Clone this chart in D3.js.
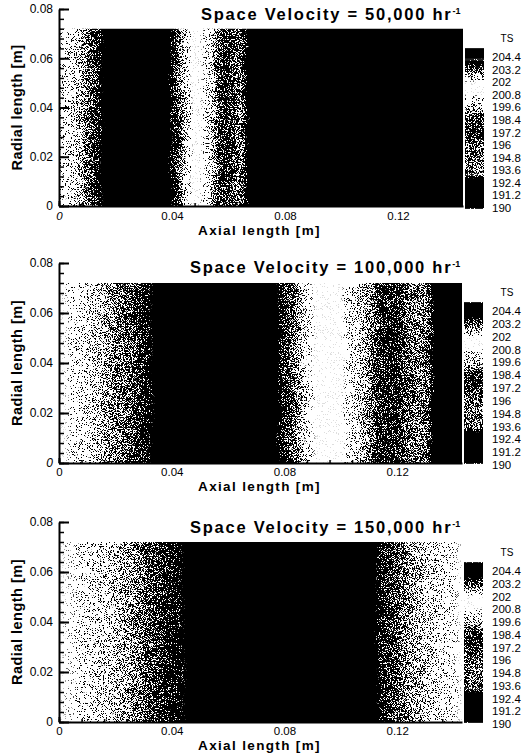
<!DOCTYPE html>
<html>
<head>
<meta charset="utf-8">
<script src="https://cdn.jsdelivr.net/npm/d3@7"></script>
<style>
  html, body { margin: 0; padding: 0; background: #fff; }
  svg { display: block; }
  text { font-family: "Liberation Sans", Arial, sans-serif; fill: #000; }
</style>
</head>
<body>
<script>
// Values
const titles = ['Space Velocity = 50,000 hr', 'Space Velocity = 100,000 hr', 'Space Velocity = 150,000 hr'];
const legendLabels = ['204.4', '203.2', '202', '200.8', '199.6', '198.4', '197.2', '196', '194.8', '193.6', '192.4', '191.2', '190'];
const xTicks = [0, 0.04, 0.08, 0.12];
const yTicks = [0, 0.02, 0.04, 0.06, 0.08];

// axial positions of the temperature readings, one every 0.002 m
const axialStations = [
  0, 0.002, 0.004, 0.006, 0.008, 0.01, 0.012, 0.014, 0.016, 0.018, 0.02, 0.022,
  0.024, 0.026, 0.028, 0.03, 0.032, 0.034, 0.036, 0.038, 0.04, 0.042, 0.044, 0.046,
  0.048, 0.05, 0.052, 0.054, 0.056, 0.058, 0.06, 0.062, 0.064, 0.066, 0.068, 0.07, 0.072, 0.074,
  0.076, 0.078, 0.08, 0.082, 0.084, 0.086, 0.088, 0.09, 0.092, 0.094, 0.096, 0.098,
  0.1, 0.102, 0.104, 0.106, 0.108, 0.11, 0.112, 0.114, 0.116, 0.118, 0.12, 0.122,
  0.124, 0.126, 0.128, 0.13, 0.132, 0.134, 0.136, 0.138, 0.14, 0.142
];

const temps50k = [
  202.1, 202.2, 202.3, 202.5, 202.8, 203.1, 203.4, 203.8, 204.2, 204.5, 204.6, 204.6,
  204.6, 204.6, 204.6, 204.6, 204.6, 204.5, 204.4, 204.0, 203.5, 203.0, 202.4, 201.8,
  201.3, 200.7, 200.0, 199.3, 198.5, 197.8, 196.8, 195.5, 194.0, 192.6, 191.5, 191.0, 190.6, 190.5,
  190.4, 190.3, 190.3, 190.2, 190.2, 190.2, 190.2, 190.2, 190.2, 190.2, 190.2, 190.2,
  190.2, 190.2, 190.2, 190.2, 190.2, 190.2, 190.2, 190.2, 190.2, 190.2, 190.2, 190.2,
  190.2, 190.2, 190.2, 190.2, 190.2, 190.2, 190.2, 190.2, 190.2, 190.2
];
const temps100k = [
  202.0, 202.05, 202.1, 202.15, 202.2, 202.3, 202.4, 202.5, 202.7, 202.8, 202.9, 203.0,
  203.1, 203.3, 203.5, 203.65, 203.8, 203.95, 204.4, 204.5, 204.6, 204.6, 204.6, 204.6,
  204.6, 204.6, 204.6, 204.6, 204.6, 204.6, 204.6, 204.6, 204.6, 204.6, 204.5, 204.5, 204.4, 204.2,
  203.9, 203.6, 203.4, 203.1, 202.8, 202.4, 202.1, 201.8, 201.5, 201.4, 201.3, 201.2,
  200.8, 200.3, 200.0, 199.7, 199.3, 198.9, 198.4, 197.9, 197.5, 197.2, 196.8, 196.2,
  195.6, 195.0, 194.4, 193.6, 192.4, 191.6, 191.0, 190.6, 190.4, 190.3
];
const temps150k = [
  202.0, 202.05, 202.05, 202.1, 202.15, 202.2, 202.25, 202.3, 202.35, 202.4, 202.5, 202.6,
  202.7, 202.8, 202.9, 203.1, 203.3, 203.4, 203.5, 203.6, 203.7, 203.75, 203.85, 203.95,
  204.2, 204.4, 204.5, 204.6, 204.6, 204.6, 204.6, 204.6, 204.6, 204.6, 204.6, 204.6, 204.6, 204.6,
  204.6, 204.6, 204.6, 204.6, 204.6, 204.6, 204.6, 204.6, 204.6, 204.6, 204.6, 204.6,
  204.6, 204.6, 204.6, 204.6, 204.2, 203.95, 203.8, 203.6, 203.4, 203.3, 203.1, 202.9,
  202.7, 202.6, 202.5, 202.4, 202.3, 202.2, 202.15, 202.1, 202.05, 202.0
];
const fieldTemps = [temps50k, temps100k, temps150k];

// legend reading: temperature stops and how light the print is at each
const tempStops =  [189, 192.8, 193.2, 195, 196, 197.2, 198.4, 199, 199.6, 200.4, 200.8, 202, 202.3, 203, 203.4, 203.9, 206];
const lightStops = [0, 0, 0.45, 0.5, 0.42, 0.22, 0.25, 0.5, 0.7, 0.9, 1, 1, 0.8, 0.45, 0.3, 0, 0];

const width = 527, height = 756;

// where each panel sits on the page
const panels = [
  { left: 59, right: 463, top: 9, bottom: 206, barLeft: 465, barTop: 48, barBottom: 209, labelTop: 57, labelBottom: 208, titleX: 201, titleY: 20, tsY: 38, xLabelY: 216, xNameY: 235, yZeroItalic: false, xZeroItalic: true },
  { left: 59, right: 462, top: 263, bottom: 463, barLeft: 464, barTop: 302, barBottom: 464, labelTop: 311, labelBottom: 465, titleX: 190, titleY: 273, tsY: 292, xLabelY: 472, xNameY: 491, yZeroItalic: true, xZeroItalic: false },
  { left: 59, right: 462, top: 522, bottom: 722, barLeft: 464, barTop: 562, barBottom: 723, labelTop: 571, labelBottom: 724, titleX: 190, titleY: 533, tsY: 552, xLabelY: 731, xNameY: 750, yZeroItalic: false, xZeroItalic: false }
];

const svg = d3.select('body').append('svg')
  .attr('width', width)
  .attr('height', height);

const defs = svg.append('defs');

// print-like halftone: soften the strips, then threshold them against fine grain
function addStipple(id, box, blur, warp, seed) {
  const f = defs.append('filter')
    .attr('id', id)
    .attr('filterUnits', 'userSpaceOnUse')
    .attr('x', box[0]).attr('y', box[1]).attr('width', box[2]).attr('height', box[3])
    .attr('color-interpolation-filters', 'sRGB');
  f.append('feTurbulence')
    .attr('type', 'fractalNoise').attr('baseFrequency', '0.025 0.04').attr('numOctaves', 2)
    .attr('seed', seed).attr('result', 'warp');
  f.append('feDisplacementMap')
    .attr('in', 'SourceGraphic').attr('in2', 'warp').attr('scale', warp)
    .attr('xChannelSelector', 'R').attr('yChannelSelector', 'G').attr('result', 'bent');
  f.append('feGaussianBlur')
    .attr('in', 'bent').attr('stdDeviation', blur).attr('result', 'soft');
  f.append('feTurbulence')
    .attr('type', 'fractalNoise').attr('baseFrequency', 1.37).attr('numOctaves', 1)
    .attr('seed', seed + 1).attr('result', 'noise');
  f.append('feColorMatrix')
    .attr('in', 'noise').attr('type', 'matrix')
    .attr('values', '3.2 0 0 0 -1.1  3.2 0 0 0 -1.1  3.2 0 0 0 -1.1  0 0 0 0 1')
    .attr('result', 'grain');
  f.append('feComposite')
    .attr('in', 'soft').attr('in2', 'grain').attr('operator', 'arithmetic')
    .attr('k1', 0).attr('k2', 0.55).attr('k3', 0.5).attr('k4', 0).attr('result', 'sum');
  const t = f.append('feComponentTransfer').attr('in', 'sum');
  ['feFuncR', 'feFuncG', 'feFuncB'].forEach(c => {
    t.append(c).attr('type', 'linear').attr('slope', 30).attr('intercept', -15.6);
  });
}

const lightness = d3.scaleLinear().domain(tempStops).range(lightStops);
const grey = t => d3.rgb(lightness(t) * 255, lightness(t) * 255, lightness(t) * 255).formatHex();

panels.forEach((p, k) => {
  const x = d3.scaleLinear().domain([0, 0.143]).range([p.left, p.right]);
  const y = d3.scaleLinear().domain([0, 0.08]).range([p.bottom, p.top]);
  const g = svg.append('g');

  addStipple('field' + k, [p.left - 20, y(0.072) - 10, p.right - p.left + 40, y(0) - y(0.072) + 20], '2 0', 9, 3 + k * 5);
  addStipple('bar' + k, [p.barLeft, p.barTop, 19, p.barBottom - p.barTop], '0 0.8', 0, 40 + k * 5);

  defs.append('clipPath').attr('id', 'clip' + k)
    .append('rect')
    .attr('x', p.left).attr('y', y(0.072))
    .attr('width', p.right - p.left).attr('height', y(0) - y(0.072));

  // temperature field, one strip per reading (overdrawn a little, the clip trims it)
  const temps = fieldTemps[k];
  g.append('g').attr('clip-path', `url(#clip${k})`)
    .append('g').attr('filter', `url(#field${k})`).attr('shape-rendering', 'crispEdges')
    .selectAll('rect')
    .data(temps)
    .enter().append('rect')
    .attr('x', (d, i) => i === 0 ? p.left - 20 : Math.round(x(axialStations[i])))
    .attr('y', y(0.072) - 10)
    .attr('width', (d, i) => {
      const x0 = i === 0 ? p.left - 20 : Math.round(x(axialStations[i]));
      const x1 = i < temps.length - 1 ? Math.round(x(axialStations[i + 1])) : p.right + 20;
      return x1 - x0;
    })
    .attr('height', y(0) - y(0.072) + 20)
    .attr('fill', d => grey(d));

  // minor ticks
  g.append('g')
    .attr('transform', `translate(${p.left},0)`)
    .call(d3.axisLeft(y).tickValues(d3.range(0, 0.0801, 0.004)).tickSize(-5).tickFormat(''))
    .call(a => a.selectAll('line').attr('stroke', '#000').attr('stroke-width', 1.5))
    .call(a => a.select('.domain').remove());
  g.append('g')
    .attr('transform', `translate(0,${p.bottom})`)
    .call(d3.axisBottom(x).tickValues(d3.range(0, 0.143, 0.008)).tickSize(-3).tickFormat(''))
    .call(a => a.selectAll('line').attr('stroke', '#000').attr('stroke-width', 1.5))
    .call(a => a.select('.domain').remove());

  // main axes
  g.append('g')
    .attr('transform', `translate(${p.left},0)`)
    .call(d3.axisLeft(y).tickValues(yTicks).tickSize(-10).tickPadding(6).tickSizeOuter(0).tickFormat(d => d === 0 ? '0' : d3.format('.2f')(d)))
    .call(a => a.select('.domain').attr('stroke', '#000').attr('stroke-width', 2))
    .call(a => a.selectAll('line').attr('stroke', '#000').attr('stroke-width', 2))
    .call(a => a.selectAll('text').attr('font-size', 12).attr('font-family', '"Liberation Sans"')
      .attr('font-style', d => d === 0 && p.yZeroItalic ? 'italic' : null));
  g.append('g')
    .attr('transform', `translate(0,${p.bottom})`)
    .call(d3.axisBottom(x).tickValues(xTicks).tickSize(-5).tickSizeOuter(0).tickFormat(d => d === 0 ? '0' : d3.format('.2f')(d)))
    .call(a => a.select('.domain').attr('stroke', '#000').attr('stroke-width', 2))
    .call(a => a.selectAll('line').attr('stroke', '#000').attr('stroke-width', 2))
    .call(a => a.selectAll('text')
      .attr('y', p.xLabelY - p.bottom)
      .attr('dy', '0.35em')
      .attr('font-size', 11.5).attr('font-family', '"Liberation Sans"')
      .attr('font-style', d => d === 0 && p.xZeroItalic ? 'italic' : null));

  // title and axis names
  const title = g.append('text')
    .attr('x', p.titleX)
    .attr('y', p.titleY)
    .attr('font-size', 16.5)
    .attr('font-weight', 'bold')
    .attr('letter-spacing', 1.75)
    .text(titles[k]);
  title.append('tspan').attr('dy', -6).attr('font-size', 9).attr('letter-spacing', 0).text('-1');

  g.append('text')
    .attr('x', 259.5)
    .attr('y', p.xNameY)
    .attr('text-anchor', 'middle')
    .attr('font-size', 13.5)
    .attr('font-weight', 'bold')
    .attr('letter-spacing', 1.35)
    .text('Axial length [m]');
  g.append('text')
    .attr('transform', `translate(22,${(p.top + p.bottom) / 2}) rotate(-90)`)
    .attr('text-anchor', 'middle')
    .attr('font-size', 14.5)
    .attr('letter-spacing', 0.5)
    .attr('font-weight', 'bold')
    .text('Radial length [m]');

  // colour bar
  const barY = d3.scaleLinear().domain([189.9, 205.3]).range([p.barBottom, p.barTop]);
  const barSteps = d3.range(189.9, 205.3, 0.1);
  g.append('g').attr('filter', `url(#bar${k})`).attr('shape-rendering', 'crispEdges')
    .selectAll('rect')
    .data(barSteps)
    .enter().append('rect')
    .attr('x', p.barLeft)
    .attr('width', 19)
    .attr('y', d => Math.round(barY(d + 0.1)))
    .attr('height', d => Math.round(barY(d)) - Math.round(barY(d + 0.1)))
    .attr('fill', d => grey(d));

  const labelStep = (p.labelBottom - p.labelTop) / (legendLabels.length - 1);
  g.append('g').selectAll('text')
    .data(legendLabels)
    .enter().append('text')
    .attr('x', 492)
    .attr('y', (d, i) => p.labelTop + i * labelStep)
    .attr('dy', '0.35em')
    .attr('font-size', 11.5)
    .text(d => d);
  g.append('text')
    .attr('x', 507)
    .attr('y', p.tsY)
    .attr('dy', '0.35em')
    .attr('text-anchor', 'middle')
    .attr('font-size', 10)
    .text('TS');
});
</script>
</body>
</html>
